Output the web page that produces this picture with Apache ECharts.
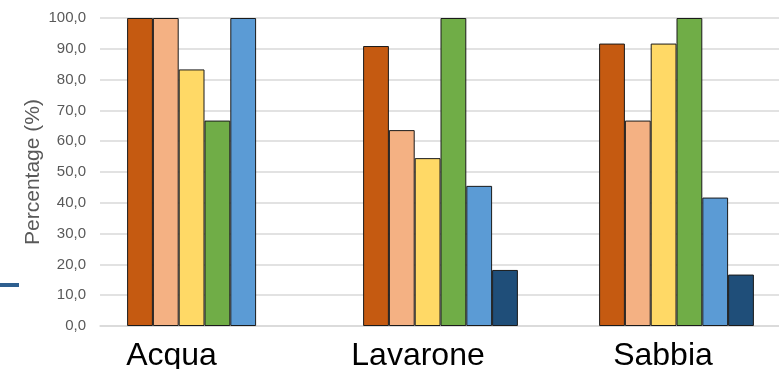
<!DOCTYPE html>
<html>
<head>
<meta charset="utf-8">
<script src="https://cdn.jsdelivr.net/npm/echarts@6/dist/echarts.min.js"></script>
<style>
  html, body { margin: 0; padding: 0; background: #ffffff; overflow: hidden; }
  #chart { width: 800px; height: 369px; }
</style>
</head>
<body>
<div id="chart"></div>
<script>
// Sites on the x axis
const categories = ['Acqua', 'Lavarone', 'Sabbia'];

// Percentages per series, one value per site ('-' = no value)
const series1 = [100.0, 90.9, 91.7];
const series2 = [100.0, 63.6, 66.7];
const series3 = [83.3, 54.5, 91.7];
const series4 = [66.7, 100.0, 100.0];
const series5 = [100.0, 45.5, 41.7];
const series6 = ['-', 18.2, 16.7];

const seriesNames = ['Serie 1', 'Serie 2', 'Serie 3', 'Serie 4', 'Serie 5', 'Serie 6'];
const seriesData = [series1, series2, series3, series4, series5, series6];
const colors = ['#C55A11', '#F4B183', '#FFD966', '#70AD47', '#5B9BD5', '#1F4E79'];

// Value axis ticks
const yMin = 0, yMax = 100, yStep = 10;

const font = '"Liberation Sans", Arial, sans-serif';
const labelShift = { Acqua: 66, Lavarone: 45, Sabbia: 27 };

const chart = echarts.init(document.getElementById('chart'), null, { renderer: 'canvas' });

function catStyle(shift) {
  return { fontFamily: font, fontSize: 32, color: '#000000', padding: [0, shift, 0, 0] };
}

chart.setOption({
  animation: false,
  backgroundColor: '#ffffff',
  grid: [
    { left: 86.5, width: 708, top: 18, bottom: 43, containLabel: false, outerBoundsMode: 'none' },
    { left: 100, right: 21, top: 18, bottom: 43, containLabel: false, outerBoundsMode: 'none' }
  ],
  xAxis: [
    {
      type: 'category',
      gridIndex: 0,
      data: categories,
      axisLine: { show: false },
      axisTick: { show: false },
      axisLabel: {
        margin: 14,
        interval: 0,
        formatter: function (v) { return '{' + v + '|' + v + '}'; },
        rich: {
          Acqua: catStyle(labelShift.Acqua),
          Lavarone: catStyle(labelShift.Lavarone),
          Sabbia: catStyle(labelShift.Sabbia)
        }
      }
    },
    {
      type: 'category',
      gridIndex: 1,
      data: categories,
      axisLine: { show: true, lineStyle: { color: '#d9d9d9', width: 1.5 } },
      axisTick: { show: false },
      axisLabel: { show: false }
    }
  ],
  yAxis: [
    {
      type: 'value',
      gridIndex: 0,
      min: yMin, max: yMax, interval: yStep,
      show: false,
      splitLine: { show: false }
    },
    {
      type: 'value',
      gridIndex: 1,
      min: yMin, max: yMax, interval: yStep,
      name: 'Percentage (%)',
      nameLocation: 'middle',
      nameRotate: 90,
      nameGap: 56,
      nameMoveOverlap: false,
      nameTextStyle: { fontFamily: font, fontSize: 21, color: '#595959' },
      axisLine: { show: false },
      axisTick: { show: false },
      axisLabel: {
        margin: 14,
        fontFamily: font,
        fontSize: 15,
        color: '#595959',
        formatter: function (v) { return v.toFixed(1).replace('.', ','); }
      },
      splitLine: { show: true, lineStyle: { color: '#d9d9d9', width: 1.5 } }
    }
  ],
  graphic: [
    { type: 'rect', left: 0, top: 283, shape: { width: 19, height: 4 }, style: { fill: '#2E5F8F' }, silent: true }
  ],
  series: seriesData.map(function (d, i) {
    return {
      name: seriesNames[i],
      type: 'bar',
      xAxisIndex: 0,
      yAxisIndex: 0,
      data: d,
      barWidth: 25.8,
      barGap: '0%',
      itemStyle: { color: colors[i], borderColor: '#1a1a1a', borderWidth: 1 }
    };
  })
});
</script>
</body>
</html>
